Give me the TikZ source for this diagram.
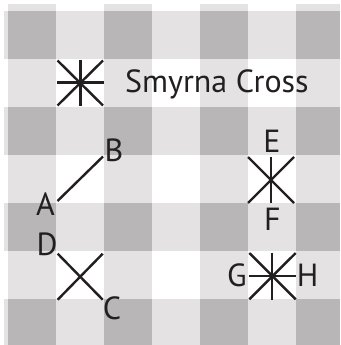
\documentclass[tikz,border=0pt]{standalone}
\usepackage{fontspec}
\setmainfont{PT Sans}
\definecolor{lightg}{RGB}{228,226,227}
\definecolor{darkg}{RGB}{184,182,183}
\definecolor{ink}{RGB}{35,31,32}
\begin{document}
\begin{tikzpicture}[x=1pt,y=-1pt,
  stitch/.style={line width=2.4pt,draw=ink},
  lbl/.style={text=ink,font=\fontsize{32}{32}\selectfont,inner sep=0pt,anchor=center}]
\useasboundingbox (0,0) rectangle (340,345);
\fill[white] (0,0) rectangle (340,345);
% columns
\foreach \x in {8,104,200,296} {\fill[lightg] (\x,4) rectangle ({min(\x+48,340)},345);}
% rows
\foreach \y in {11,107,203,299} {\fill[lightg] (4,\y) rectangle (340,{min(\y+48,345)});}
% intersections
\foreach \x in {8,104,200,296} {\foreach \y in {11,107,203,299} {
  \fill[darkg] (\x,\y) rectangle ({min(\x+48,340)},{min(\y+48,345)});}}
% Smyrna cross (top)
\coordinate (s1a) at (57.5,60.5); \coordinate (s1b) at (103,105.5);
\coordinate (s1c) at (57.5,105.5); \coordinate (s1d) at (103,60.5);
\coordinate (s1e) at (80.3,60); \coordinate (s1f) at (80.3,106);
\coordinate (s1g) at (57,82.5); \coordinate (s1h) at (104,82.5);
\draw[stitch] (s1a) -- (s1b); \draw[stitch] (s1c) -- (s1d);
\draw[stitch] (s1e) -- (s1f); \draw[stitch] (s1g) -- (s1h);
\node[lbl,anchor=west] (title) at (125,84) {Smyrna Cross};
% A-B
\node[lbl] (A) at (45.5,204) {A};
\node[lbl] (B) at (114,150) {B};
\coordinate (a1) at (57.5,201); \coordinate (b1) at (103,156.5);
\draw[stitch] (a1) -- (b1);
% D-C
\node[lbl] (D) at (47,244.5) {D};
\node[lbl] (C) at (112,308) {C};
\coordinate (d1) at (57.7,253.7); \coordinate (c1) at (102.7,299.7);
\coordinate (d2) at (57.7,299.7); \coordinate (c2) at (102.7,253.7);
\draw[stitch] (d1) -- (c1); \draw[stitch] (d2) -- (c2);
% E-F
\node[lbl] (E) at (272,141) {E};
\node[lbl] (F) at (272.5,219.5) {F};
\coordinate (e1) at (248,157); \coordinate (e2) at (294,203);
\coordinate (e3) at (248,203); \coordinate (e4) at (294,157);
\coordinate (e5) at (271,156.7); \coordinate (f1) at (271,203.3);
\draw[stitch] (e1) -- (e2); \draw[stitch] (e3) -- (e4); \draw[stitch] (e5) -- (f1);
% G-H
\node[lbl] (G) at (237,275.5) {G};
\node[lbl] (H) at (307.5,275.5) {H};
\coordinate (g1) at (249.3,253); \coordinate (g2) at (295.7,299.3);
\coordinate (g3) at (249.3,299.3); \coordinate (g4) at (295.7,253);
\coordinate (g5) at (272,252.7); \coordinate (g6) at (272,299.6);
\coordinate (g7) at (248.5,276); \coordinate (h1) at (296,276);
\draw[stitch] (g1) -- (g2); \draw[stitch] (g3) -- (g4);
\draw[stitch] (g5) -- (g6); \draw[stitch] (g7) -- (h1);
\end{tikzpicture}
\end{document}
